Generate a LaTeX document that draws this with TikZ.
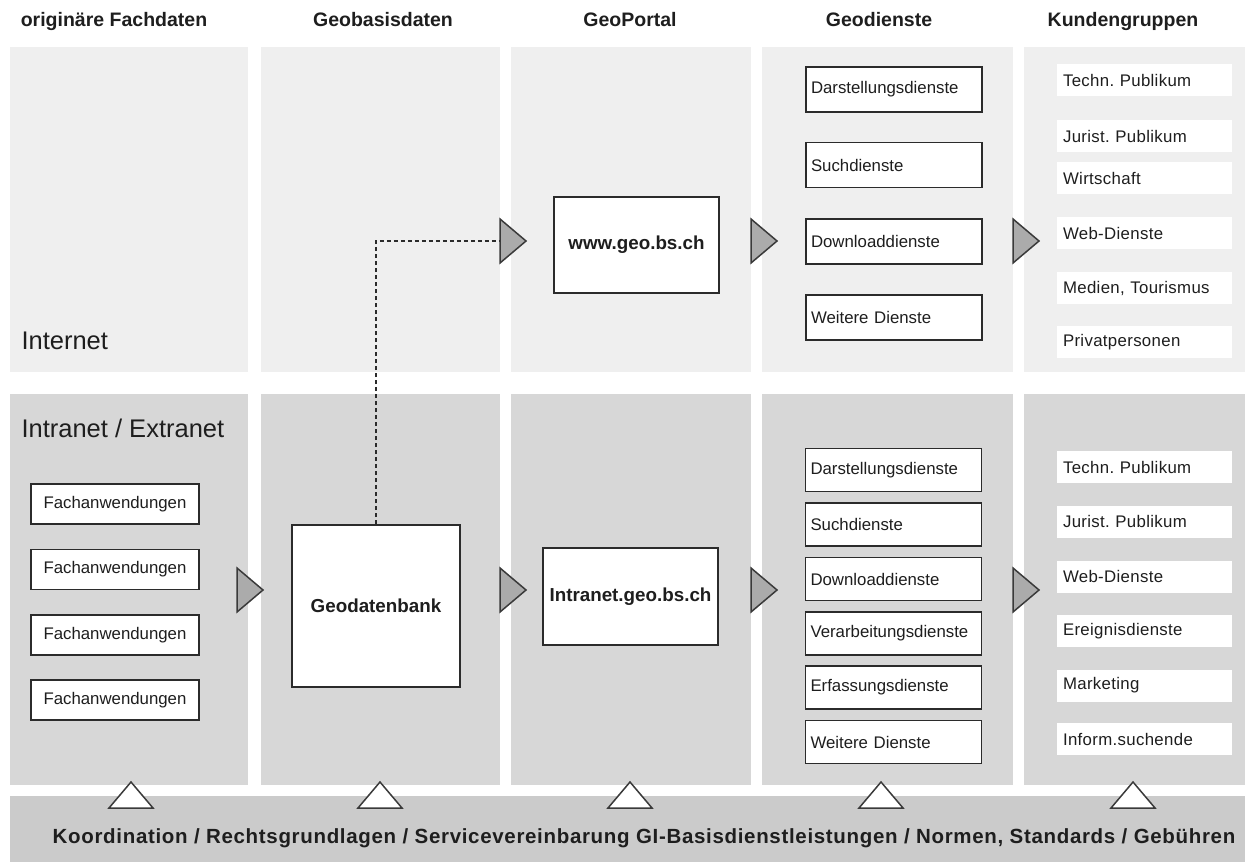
\documentclass[tikz,border=0pt]{standalone}
\usepackage{fontspec}
\setmainfont{Liberation Sans}
\frenchspacing
\definecolor{inet}{HTML}{EFEFEF}
\definecolor{intra}{HTML}{D7D7D7}
\definecolor{bandc}{HTML}{CBCBCB}
\definecolor{boxline}{HTML}{2B2B2B}
\definecolor{txt}{HTML}{1E1E1E}
\definecolor{trifill}{HTML}{ABABAB}
\definecolor{triline}{HTML}{3A3A3A}
\tikzset{
  box/.style={draw=boxline, line width=1.6pt, fill=white, text=txt, inner sep=0pt,
    font=\fontsize{16.8}{18}\selectfont},
  fachbox/.style={box, minimum width=168pt, minimum height=40pt},
  bbox/.style={box, font=\fontsize{18.8}{22}\selectfont\bfseries},
  dbox/.style={box, inner xsep=5pt, text width=166pt, align=left, minimum height=#1},
  kbox/.style={fill=white, draw=none, text=txt, inner xsep=6pt, inner ysep=0pt,
    text width=163pt, align=left, minimum height=32pt,
    font=\fontsize{16.8}{18}\selectfont\addfontfeature{LetterSpace=2}},
  header/.style={text=txt, anchor=base, font=\fontsize{19.5}{22}\selectfont\bfseries},
  rowlabel/.style={text=txt, anchor=base west, font=\fontsize{25.5}{28}\selectfont},
  rtri/.pic={\draw[line width=1.5pt, draw=triline, fill=trifill, line join=miter]
    (-26,-22) -- (0,0) -- (-26,22) -- cycle;},
  utri/.pic={\draw[line width=1.5pt, draw=triline, fill=white, line join=miter]
    (-22,26) -- (0,0) -- (22,26) -- cycle;},
}
\begin{document}
\begin{tikzpicture}[x=1pt,y=-1pt]
\fill[white] (0,0) rectangle (1249,867);
\useasboundingbox (0,0) rectangle (1249,867);

% lanes
\foreach \a/\b in {10/248, 261/500, 511/751, 762/1013, 1024/1245}{
  \fill[inet] (\a,47) rectangle (\b,372);
  \fill[intra] (\a,394) rectangle (\b,785);
}
\fill[bandc] (10,796) rectangle (1245,862);

% headers
\node[header] (h1) at (114,27) {originäre Fachdaten};
\node[header] (h2) at (383,27) {Geobasisdaten};
\node[header] (h3) at (630,27) {GeoPortal};
\node[header] (h4) at (879,27) {Geodienste};
\node[header] (h5) at (1123,27) {Kundengruppen};

% row labels
\node[rowlabel] (linet) at (18,349) {Internet};
\node[rowlabel] (lintra) at (18,437) {Intranet / Extranet};

% column 1
\node[fachbox] (f1) at (115,504) {Fachanwendungen};
\node[fachbox] (f2) at (115,569.5) {Fachanwendungen};
\node[fachbox] (f3) at (115,635) {Fachanwendungen};
\node[fachbox] (f4) at (115,700) {Fachanwendungen};

% column 2
\node[bbox, minimum width=168pt, minimum height=162pt] (gdb) at (376,606) {Geodatenbank};

% column 3
\node[bbox, minimum width=165pt, minimum height=96pt] (www) at (636.5,245) {www.geo.bs.ch};
\node[bbox, minimum width=175pt, minimum height=97pt] (intra) at (630.5,596.5) {Intranet.geo.bs.ch};

% column 4 upper
\node[dbox=45pt] (d1) at (894,89.5) {Darstellungsdienste};
\node[dbox=45pt] (d2) at (894,165) {Suchdienste};
\node[dbox=45pt] (d3) at (894,241.5) {Downloaddienste};
\node[dbox=45pt] (d4) at (894,317.5) {Weitere Dienste};

% column 4 lower
\node[dbox=43pt] (e1) at (893.5,470) {Darstellungsdienste};
\node[dbox=43pt] (e2) at (893.5,524.5) {Suchdienste};
\node[dbox=43pt] (e3) at (893.5,579) {Downloaddienste};
\node[dbox=43pt] (e4) at (893.5,633.5) {Verarbeitungsdienste};
\node[dbox=43pt] (e5) at (893.5,687.5) {Erfassungsdienste};
\node[dbox=43pt] (e6) at (893.5,742) {Weitere Dienste};

% column 5 upper
\node[kbox] (k1) at (1144.5,80) {Techn. Publikum};
\node[kbox] (k2) at (1144.5,136) {Jurist. Publikum};
\node[kbox] (k3) at (1144.5,178) {Wirtschaft};
\node[kbox] (k4) at (1144.5,233) {Web-Dienste};
\node[kbox] (k5) at (1144.5,288) {Medien, Tourismus};
\node[kbox] (k6) at (1144.5,342) {Privatpersonen};

% column 5 lower
\node[kbox] (m1) at (1144.5,467) {Techn. Publikum};
\node[kbox] (m2) at (1144.5,521.5) {Jurist. Publikum};
\node[kbox] (m3) at (1144.5,576.5) {Web-Dienste};
\node[kbox] (m4) at (1144.5,631) {Ereignisdienste};
\node[kbox] (m5) at (1144.5,685.5) {Marketing};
\node[kbox] (m6) at (1144.5,739) {Inform.suchende};

% dashed link
\coordinate (din) at (500,241);
\draw[boxline, line width=1.3pt, dash pattern=on 4pt off 3pt] (gdb.north) |- (din);

% flow triangles
\pic at (526,241) {rtri};
\pic at (777,241) {rtri};
\pic at (1039,241) {rtri};
\pic at (263,590) {rtri};
\pic at (526,590) {rtri};
\pic at (777,590) {rtri};
\pic at (1039,590) {rtri};

% bottom band
\foreach \x in {131,380,630,881,1133}{ \pic at (\x,782) {utri}; }
\node[text=txt, anchor=base, font=\fontsize{20.5}{24}\selectfont\bfseries\addfontfeature{LetterSpace=3.3}] (band) at (644,843)
  {Koordination / Rechtsgrundlagen / Servicevereinbarung GI-Basisdienstleistungen / Normen, Standards / Gebühren};
\end{tikzpicture}
\end{document}
